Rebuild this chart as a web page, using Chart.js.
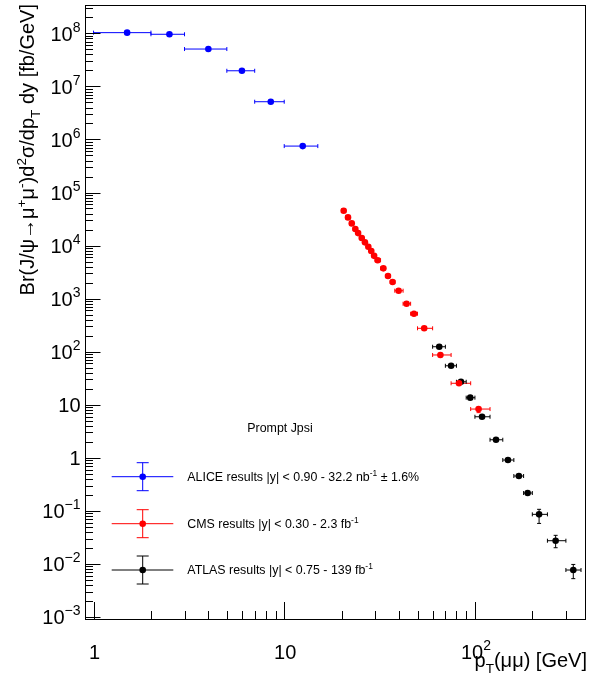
<!DOCTYPE html>
<html><head><meta charset="utf-8">
<script src="https://cdn.jsdelivr.net/npm/chart.js@4/dist/chart.umd.min.js"></script>
<style>html,body{margin:0;padding:0;background:#fff;}#wrap{width:589px;height:677px;}</style>
</head><body><div id="wrap"><canvas id="c" width="589" height="677"></canvas></div>
<script>
// ---------- data ----------
const aliceX     = [1.5, 2.5, 4, 6, 8.5, 12.5];
const aliceXLow  = [1, 2, 3, 5, 7, 10];
const aliceXHigh = [2, 3, 5, 7, 10, 15];
const aliceY     = [1.03e8, 9.6e7, 5.06e7, 1.97e7, 5.14e6, 7.5e5];
const aliceYErr  = [4e6, 3.5e6, 1.8e6, 7e5, 2e5, 3.5e4];

const cmsX     = [20.5, 21.6, 22.6, 23.6, 24.4, 25.5, 26.5, 27.6, 28.6, 29.6, 30.9, 33.1, 35, 37, 39.8, 43.8, 47.9, 54.2, 65.9, 82.5, 104.5];
const cmsXLow  = [20, 21, 22, 23, 24, 25, 26, 27, 28, 29, 30, 32, 34, 36, 38, 42, 46, 50, 60, 75, 95];
const cmsXHigh = [21, 22, 23, 24, 25, 26, 27, 28, 29, 30, 32, 34, 36, 38, 42, 46, 50, 60, 75, 95, 120];
const cmsY     = [4.54e4, 3.40e4, 2.62e4, 2.05e4, 1.72e4, 1.39e4, 1.15e4, 9.5e3, 7.9e3, 6.4e3, 5.3e3, 3.72e3, 2.67e3, 2.06e3, 1.41e3, 802, 520, 276, 86.7, 25.4, 8.3];
const cmsYErr  = [1.5e3, 1.1e3, 9e2, 7e2, 6e2, 5e2, 4e2, 3.3e2, 2.8e2, 2.3e2, 1.9e2, 1.4e2, 1e2, 80, 55, 32, 22, 13, 5, 1.8, 1.2];

const atlasX      = [65, 75, 84.5, 94.5, 109, 129, 149, 170, 189, 217, 265, 328];
const atlasXLow   = [60, 70, 80, 90, 100, 120, 140, 160, 180, 200, 240, 300];
const atlasXHigh  = [70, 80, 90, 100, 120, 140, 160, 180, 200, 240, 300, 360];
const atlasY      = [124, 54.3, 27.1, 13.6, 5.94, 2.19, 0.908, 0.454, 0.217, 0.086, 0.0274, 0.00768];
const atlasYErrLo = [6, 2.6, 1.3, 0.7, 0.3, 0.12, 0.05, 0.03, 0.018, 0.028, 0.0072, 0.0024];
const atlasYErrHi = [6, 2.6, 1.3, 0.7, 0.3, 0.12, 0.05, 0.03, 0.018, 0.021, 0.0072, 0.0021];

const seriesLabels = [
  [{t:'ALICE results |y| < 0.90 - 32.2 nb'},{t:'-1',s:1},{t:' \u00b1 1.6%'}],
  [{t:'CMS results |y| < 0.30 - 2.3 fb'},{t:'-1',s:1}],
  [{t:'ATLAS results |y| < 0.75 - 139 fb'},{t:'-1',s:1}]
];
const legendHeader = 'Prompt Jpsi';

const xTickValues = [1, 10, 100];
const xTickLabels = ['1', '10', '10^2'];
const yTickValues = [1e-3, 1e-2, 1e-1, 1, 10, 100, 1e3, 1e4, 1e5, 1e6, 1e7, 1e8];
const yTickLabels = ['10^\u22123','10^\u22122','10^\u22121','1','10','10^2','10^3','10^4','10^5','10^6','10^7','10^8'];

const xTitle = [{t:'p'},{t:'T',s:-1},{t:'(\u03bc\u03bc) [GeV]'}];
const yTitle = [{t:'Br(J/\u03c8\u2192\u03bc'},{t:'+',s:1},{t:'\u03bc'},{t:'-',s:1},{t:')d'},{t:'2',s:1},{t:'\u03c3/dp'},{t:'T',s:-1},{t:' dy [fb/GeV]'}];

const FONT = '"Liberation Sans", Arial, Helvetica, sans-serif';

function pts(xs, ys){ return xs.map((x,i)=>({x:x, y:ys[i]})); }
function parseLabel(str){
  const p = str.split('^');
  return p.length > 1 ? [{t:p[0]},{t:p[1],s:1}] : [{t:p[0]}];
}

const datasets = [
  {label:'ALICE', data: pts(aliceX, aliceY), backgroundColor:'#0000ff', borderColor:'#0000ff',
   err:{xl:aliceXLow, xh:aliceXHigh, yl:aliceY.map((v,i)=>v-aliceYErr[i]), yh:aliceY.map((v,i)=>v+aliceYErr[i])}},
  {label:'CMS', data: pts(cmsX, cmsY), backgroundColor:'#ff0000', borderColor:'#ff0000',
   err:{xl:cmsXLow, xh:cmsXHigh, yl:cmsY.map((v,i)=>v-cmsYErr[i]), yh:cmsY.map((v,i)=>v+cmsYErr[i])}},
  {label:'ATLAS', data: pts(atlasX, atlasY), backgroundColor:'#000000', borderColor:'#000000',
   err:{xl:atlasXLow, xh:atlasXHigh, yl:atlasY.map((v,i)=>v-atlasYErrLo[i]), yh:atlasY.map((v,i)=>v+atlasYErrHi[i])}}
];

function drawRich(ctx, segs, size, x, y, align, supScale, supRaise){
  supScale = supScale || 0.68; supRaise = supRaise || 0.42;
  const parts = segs.map(sg => {
    const s = sg.s||0;
    const fs = s ? size*supScale : size;
    ctx.font = fs + 'px ' + FONT;
    return {t:sg.t, fs:fs, dy: s>0 ? -size*supRaise : (s<0 ? size*0.28 : 0), w: ctx.measureText(sg.t).width};
  });
  const total = parts.reduce((a,p)=>a+p.w,0);
  let cx = align==='right' ? x-total : (align==='center' ? x-total/2 : x);
  ctx.textAlign = 'left';
  ctx.textBaseline = 'alphabetic';
  for (const p of parts){
    ctx.font = p.fs + 'px ' + FONT;
    ctx.fillText(p.t, cx, y + p.dy);
    cx += p.w;
  }
  return total;
}

const rootPlugin = {
  id:'rootStyle',
  beforeDatasetsDraw(chart){
    const ctx = chart.ctx, xs = chart.scales.x, ys = chart.scales.y, a = chart.chartArea;
    ctx.save();
    ctx.beginPath(); ctx.rect(a.left, a.top, a.right-a.left, a.bottom-a.top); ctx.clip();
    chart.data.datasets.forEach(ds => {
      ctx.strokeStyle = ds.borderColor; ctx.lineWidth = 1;
      ds.data.forEach((p,i) => {
        const px = xs.getPixelForValue(p.x), py = ys.getPixelForValue(p.y);
        const x1 = xs.getPixelForValue(ds.err.xl[i]), x2 = xs.getPixelForValue(ds.err.xh[i]);
        const y1 = ys.getPixelForValue(ds.err.yh[i]), y2 = ys.getPixelForValue(ds.err.yl[i]);
        ctx.beginPath();
        ctx.moveTo(x1, py); ctx.lineTo(x2, py);
        ctx.moveTo(x1, py-2); ctx.lineTo(x1, py+2);
        ctx.moveTo(x2, py-2); ctx.lineTo(x2, py+2);
        if (py - y1 > 3.5) { ctx.moveTo(px, py); ctx.lineTo(px, y1); ctx.moveTo(px-2, y1); ctx.lineTo(px+2, y1); }
        if (y2 - py > 3.5) { ctx.moveTo(px, py); ctx.lineTo(px, y2); ctx.moveTo(px-2, y2); ctx.lineTo(px+2, y2); }
        ctx.stroke();
      });
    });
    ctx.restore();
  },
  afterDraw(chart){
    const ctx = chart.ctx, xs = chart.scales.x, ys = chart.scales.y, a = chart.chartArea;
    ctx.save();
    ctx.strokeStyle = '#000'; ctx.lineWidth = 1;
    const L = Math.round(a.left)+0.5, R = Math.round(a.right)-0.5, T = Math.round(a.top)+0.5, B = Math.round(a.bottom)-0.5;
    ctx.strokeRect(L, T, R-L, B-T);
    // ticks on x (inside, pointing up)
    ctx.beginPath();
    for (let e = -1; e <= 3; e++) {
      for (let k = 1; k <= 9; k++) {
        const v = k*Math.pow(10,e);
        if (v < xs.min || v > xs.max) continue;
        const px = Math.round(xs.getPixelForValue(v))+0.5;
        const len = k===1 ? 17.5 : 8.5;
        ctx.moveTo(px, B); ctx.lineTo(px, B-len);
      }
    }
    for (let e = -4; e <= 9; e++) {
      for (let k = 1; k <= 9; k++) {
        const v = k*Math.pow(10,e);
        if (v < ys.min || v > ys.max) continue;
        const py = Math.round(ys.getPixelForValue(v))+0.5;
        const len = k===1 ? 15 : 7.5;
        ctx.moveTo(L, py); ctx.lineTo(L+len, py);
      }
    }
    ctx.stroke();
    ctx.fillStyle = '#000';
    // tick labels (positions from the library's scales)
    ys.ticks.forEach((tk, i) => {
      const py = ys.getPixelForValue(tk.value);
      drawRich(ctx, parseLabel(yTickLabels[i]), 20, 80.5, py + 7.2, 'right', 0.7, 0.45);
    });
    xs.ticks.forEach((tk, i) => {
      const px = xs.getPixelForValue(tk.value);
      drawRich(ctx, parseLabel(xTickLabels[i]), 20, px + 1, 659, 'center', 0.7, 0.45);
    });
    // axis titles
    drawRich(ctx, xTitle, 20, 587, 667, 'right');
    ctx.save();
    ctx.translate(34, 4);
    ctx.rotate(-Math.PI/2);
    drawRich(ctx, yTitle, 20, 0, 0, 'right');
    ctx.restore();
    // legend
    ctx.font = '12.4px ' + FONT; ctx.textAlign = 'center'; ctx.textBaseline = 'middle';
    ctx.fillText(legendHeader, 280, 429);
    const rows = [476.7, 523.7, 570];
    chart.data.datasets.forEach((ds, i) => {
      const y = rows[i], x = 142.7;
      ctx.strokeStyle = ds.borderColor; ctx.lineWidth = 1;
      ctx.beginPath();
      ctx.moveTo(111.7, y); ctx.lineTo(173.3, y);
      ctx.moveTo(x, y-14); ctx.lineTo(x, y+14);
      ctx.moveTo(x-6, y-14); ctx.lineTo(x+6, y-14);
      ctx.moveTo(x-6, y+14); ctx.lineTo(x+6, y+14);
      ctx.stroke();
      ctx.fillStyle = ds.backgroundColor;
      ctx.beginPath(); ctx.arc(x, y, 3.3, 0, Math.PI*2); ctx.fill();
      ctx.fillStyle = '#000';
      drawRich(ctx, seriesLabels[i], 12.4, 187.3, y+4.4, 'left');
    });
    ctx.restore();
  }
};

new Chart(document.getElementById('c'), {
  type:'scatter',
  data:{datasets: datasets},
  options:{
    responsive:false, animation:false, devicePixelRatio:1,
    layout:{padding:{left:0, top:5, right:0.7, bottom:17.5}},
    elements:{point:{radius:3.3, borderWidth:0, hoverRadius:3.3}},
    plugins:{legend:{display:false}, tooltip:{enabled:false}},
    scales:{
      x:{type:'logarithmic', position:'bottom', min:0.902, max:381,
         grid:{display:false, drawTicks:false}, border:{display:false},
         afterBuildTicks: s => { s.ticks = xTickValues.map(v=>({value:v})); },
         afterFit: s => { s.height = 40; s.paddingLeft = 0; s.paddingRight = 0; },
         ticks:{display:false, autoSkip:false, maxRotation:0}},
      y:{type:'logarithmic', position:'left', min:8.97e-4, max:3.42e8,
         grid:{display:false, drawTicks:false}, border:{display:false},
         afterBuildTicks: s => { s.ticks = yTickValues.map(v=>({value:v})); },
         afterFit: s => { s.width = 85; s.paddingTop = 0; s.paddingBottom = 0; },
         ticks:{display:false, autoSkip:false}}
    }
  },
  plugins:[rootPlugin]
});
</script></body></html>
